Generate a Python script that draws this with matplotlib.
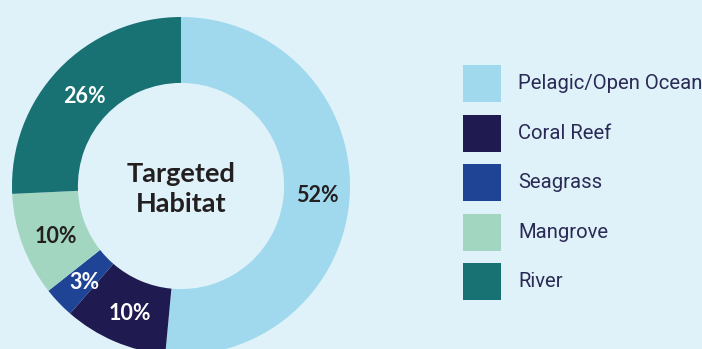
import matplotlib
matplotlib.use("Agg")
import matplotlib.pyplot as plt
import numpy as np

categories = ["Pelagic/Open Ocean", "Coral Reef", "Seagrass", "Mangrove", "River"]
shares = [52, 10, 3, 10, 26]
slice_labels = ["52%", "10%", "3%", "10%", "26%"]
colors = ["#A0D9EE", "#1F1A4F", "#1F4496", "#A3D6C0", "#187173"]
label_colors = ["#231F20", "#FFFFFF", "#FFFFFF", "#231F20", "#FFFFFF"]

bg = "#DFF1F9"
W, H = 702, 349
fig = plt.figure(figsize=(W / 100, H / 100), dpi=100, facecolor=bg)

# Donut: centre at (181, 186) px from top-left, outer radius 169 px
cx, cy, R = 181, H - 186, 169
ax = fig.add_axes([(cx - R) / W, (cy - R) / H, 2 * R / W, 2 * R / H])
ax.set_facecolor("none")
wedges, _ = ax.pie(shares, colors=colors, startangle=90, counterclock=False,
                   radius=1.0, wedgeprops=dict(width=0.39, linewidth=0))
ax.set_xlim(-1, 1)
ax.set_ylim(-1, 1)
ax.set_aspect("equal")
ax.axis("off")

font = ["Lato", "DejaVu Sans"]
for w, lab, tc in zip(wedges, slice_labels, label_colors):
    mid = np.deg2rad((w.theta1 + w.theta2) / 2)
    r = 0.80
    ax.text(r * np.cos(mid) + 0.01, r * np.sin(mid) - 0.02, lab, ha="center",
            va="center", fontsize=15.5, fontweight="bold", color=tc, family=font)

ax.text(0, -0.015, "Targeted\nHabitat", ha="center", va="center", fontsize=19.5,
        fontweight="bold", color="#231F20", family=font, linespacing=1.3)

# Legend swatches and names
sw_x, sw_w, sw_h = 463, 38, 37
tops = [65, 115, 164, 214, 263]
for top, name, c in zip(tops, categories, colors):
    fig.patches.append(plt.Rectangle((sw_x / W, (H - top - sw_h) / H), sw_w / W, sw_h / H,
                                     transform=fig.transFigure, facecolor=c,
                                     edgecolor="none"))
    fig.text(518 / W, (H - top - sw_h / 2) / H, name, ha="left", va="center",
             fontsize=14.6, color="#2A2A55", family=["Roboto", "DejaVu Sans"])

fig.savefig("out.png", dpi=100, facecolor=bg)
